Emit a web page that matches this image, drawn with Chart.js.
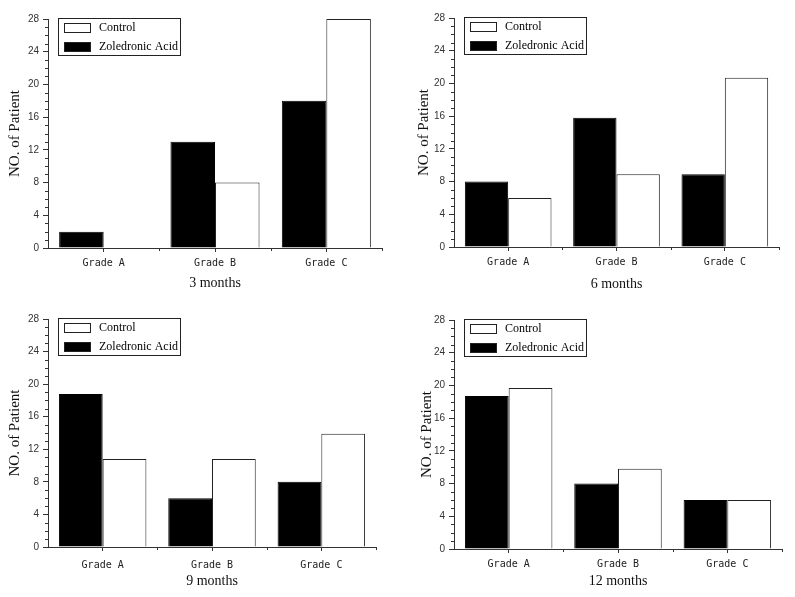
<!DOCTYPE html>
<html>
<head>
<meta charset="utf-8">
<script src="https://cdn.jsdelivr.net/npm/chart.js@4.4.1/dist/chart.umd.min.js"></script>
<style>
  body { margin: 0; background: #fff; }
  canvas { position: absolute; }
</style>
</head>
<body>
<canvas id="chart3"></canvas>
<canvas id="chart6"></canvas>
<canvas id="chart9"></canvas>
<canvas id="chart12"></canvas>
<script>
// ===== Data =====
const grades = ['Grade A', 'Grade B', 'Grade C'];
const seriesNames = ['Zoledronic Acid', 'Control'];
const yMax = 28;
const yStep = 4;
const yTitle = 'NO. of Patient';
const periods = ['3 months', '6 months', '9 months', '12 months'];

const zoledronic3 = [2, 13, 18];
const control3 = [0, 8, 28];
const zoledronic6 = [8, 15.8, 8.9];
const control6 = [6, 8.9, 20.7];
const zoledronic9 = [18.8, 6, 8];
const control9 = [10.8, 10.8, 13.9];
const zoledronic12 = [18.7, 8, 6];
const control12 = [19.7, 9.8, 6];

Chart.defaults.font.family = "'Liberation Sans', Arial, sans-serif";

// small ticks: every unit on y, category edges on x
const minorTicks = {
  id: 'minorTicks',
  afterDraw(chart) {
    const { ctx, scales: { x, y } } = chart;
    ctx.save();
    ctx.strokeStyle = '#333';
    ctx.lineWidth = 1;
    ctx.beginPath();
    for (let v = y.min; v <= y.max; v++) {
      if (v % yStep === 0) continue;
      const py = Math.round(y.getPixelForValue(v)) + 0.5;
      ctx.moveTo(y.right - 3, py);
      ctx.lineTo(y.right, py);
    }
    const half = (x.getPixelForValue(1) - x.getPixelForValue(0)) / 2;
    for (let i = 1; i <= grades.length; i++) {
      const px = Math.round(x.getPixelForValue(i) - half) + 0.5;
      ctx.moveTo(px, x.top);
      ctx.lineTo(px, x.top + 3);
    }
    ctx.stroke();
    ctx.restore();
  }
};

// boxed legend inside the plot, top left
const boxLegend = {
  id: 'boxLegend',
  afterDatasetsDraw(chart) {
    const { ctx, chartArea } = chart;
    const bx = Math.round(chartArea.left) + 10, by = Math.round(chartArea.top) - 1;
    const bw = 122, bh = 37;
    ctx.save();
    ctx.fillStyle = '#fff';
    ctx.fillRect(bx, by, bw, bh);
    ctx.strokeStyle = '#222';
    ctx.lineWidth = 1;
    ctx.strokeRect(bx + 0.5, by + 0.5, bw, bh);
    const items = chart.data.datasets.slice().reverse();
    items.forEach((ds, i) => {
      const cy = Math.round(by + 10 + i * 18.5);
      ctx.fillStyle = ds.backgroundColor;
      ctx.fillRect(bx + 6, cy - 5, 27, 10);
      ctx.strokeStyle = '#222';
      ctx.strokeRect(bx + 6.5, cy - 4.5, 26, 9);
      ctx.fillStyle = '#000';
      ctx.font = "12px 'Liberation Serif'";
      ctx.textBaseline = 'middle';
      ctx.fillText(ds.label, bx + 41, cy);
    });
    ctx.restore();
  }
};

function makePanel(id, box, period, zaValues, ctrlValues) {
  const canvas = document.getElementById(id);
  canvas.width = box.w;
  canvas.height = box.h;
  canvas.style.left = box.x + 'px';
  canvas.style.top = box.y + 'px';

  new Chart(canvas.getContext('2d'), {
    type: 'bar',
    plugins: [boxLegend, minorTicks],
    data: {
      labels: grades,
      datasets: [
        {
          label: seriesNames[0],
          data: zaValues,
          backgroundColor: '#000',
          borderColor: '#000',
          borderWidth: 1
        },
        {
          label: seriesNames[1],
          data: ctrlValues,
          backgroundColor: '#fff',
          borderColor: '#222',
          borderWidth: 1
        }
      ]
    },
    options: {
      responsive: false,
      animation: false,
      datasets: { bar: { categoryPercentage: 0.8, barPercentage: 1.0 } },
      layout: {
        padding: { left: 0, top: box.top - box.y, right: box.x + box.w - box.right, bottom: 0 }
      },
      plugins: {
        legend: { display: false },
        tooltip: { enabled: false }
      },
      scales: {
        x: {
          offset: true,
          grid: { drawOnChartArea: false, offset: false, tickLength: 4, tickColor: '#333' },
          border: { color: '#333', width: 1 },
          ticks: {
            font: { family: "'DejaVu Sans Mono', monospace", size: 10 },
            color: '#222',
            padding: box.tickY - box.bottom - 4 - 6,
            maxRotation: 0
          },
          title: {
            display: true,
            text: period,
            color: '#111',
            font: { family: "'Liberation Serif', serif", size: 14 },
            padding: { top: 0, bottom: box.y + box.h - box.titleY - 8.4 }
          },
          afterFit: s => { s.height = box.y + box.h - box.bottom; }
        },
        y: {
          min: 0,
          max: yMax,
          grid: { drawOnChartArea: false, tickLength: 5, tickColor: '#333' },
          border: { color: '#333', width: 1 },
          ticks: {
            stepSize: yStep,
            font: { size: 10 },
            color: '#333',
            padding: 4
          },
          title: {
            display: true,
            text: yTitle,
            color: '#111',
            font: { family: "'Liberation Serif', serif", size: 15 },
            padding: { top: box.yTitleX - box.x - 9, bottom: 0 }
          },
          afterFit: s => { s.width = box.left - box.x; }
        }
      }
    }
  });
}

makePanel('chart3',
  { x: 0, y: 0, w: 397, h: 298, left: 48, top: 19, right: 382, bottom: 248, tickY: 263, titleY: 283, yTitleX: 15 },
  periods[0], zoledronic3, control3);
makePanel('chart6',
  { x: 397, y: 0, w: 398, h: 298, left: 454, top: 18, right: 779, bottom: 247, tickY: 262, titleY: 284, yTitleX: 424 },
  periods[1], zoledronic6, control6);
makePanel('chart9',
  { x: 0, y: 298, w: 397, h: 299, left: 48, top: 319, right: 376, bottom: 547, tickY: 565, titleY: 581, yTitleX: 15 },
  periods[2], zoledronic9, control9);
makePanel('chart12',
  { x: 397, y: 298, w: 398, h: 299, left: 454, top: 320, right: 782, bottom: 549, tickY: 564, titleY: 581, yTitleX: 427 },
  periods[3], zoledronic12, control12);
</script>
</body>
</html>
